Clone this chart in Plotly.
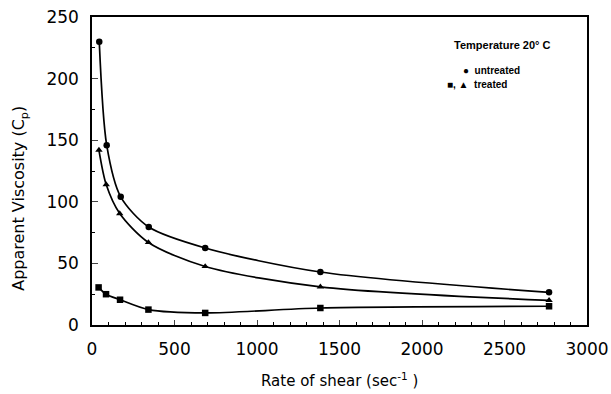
import plotly.graph_objects as go

shear_untreated = [44, 89, 174, 344, 686, 1384, 2770]
visc_untreated = [230, 146, 104, 79.5, 62.5, 43, 26.5]

shear_treated_tri = [42, 86, 168, 342, 686, 1384, 2770]
visc_treated_tri = [142, 114, 90.5, 67, 47.5, 31, 20]

shear_treated_sq = [40, 85, 170, 342, 686, 1384, 2770]
visc_treated_sq = [30.5, 25, 20.5, 12.5, 9.8, 13.8, 15.2]

x_ticks = [0, 500, 1000, 1500, 2000, 2500, 3000]
y_ticks = [0, 50, 100, 150, 200, 250]

fig = go.Figure()
common_line = dict(color="black", width=1.7, shape="spline", smoothing=0.8)
fig.add_trace(go.Scatter(x=shear_untreated, y=visc_untreated, mode="lines+markers",
                         line=common_line, marker=dict(symbol="circle", size=6.5, color="black"),
                         name="untreated"))
fig.add_trace(go.Scatter(x=shear_treated_tri, y=visc_treated_tri, mode="lines+markers",
                         line=common_line, marker=dict(symbol="triangle-up", size=6.5, color="black"),
                         name="treated"))
fig.add_trace(go.Scatter(x=shear_treated_sq, y=visc_treated_sq, mode="lines+markers",
                         line=common_line, marker=dict(symbol="square", size=6.5, color="black"),
                         name="treated"))

tick_font = dict(family="DejaVu Sans", size=17, color="black")
fig.update_layout(
    width=611, height=394,
    margin=dict(l=92, r=24, t=17, b=69),
    paper_bgcolor="white", plot_bgcolor="white",
    showlegend=False,
    font=dict(family="DejaVu Sans", color="black"),
    xaxis=dict(range=[0, 3000], tickvals=x_ticks, ticks="inside", ticklen=5, tickwidth=1,
               showline=True, mirror=True, linecolor="black", linewidth=1.5, automargin=False,
               showgrid=False, zeroline=False, tickfont=tick_font, ticklabelstandoff=8,
               minor=dict(dtick=100, ticks="inside", ticklen=3, tickcolor="black")),
    yaxis=dict(range=[0, 250], tickvals=y_ticks, ticks="inside", ticklen=6, tickwidth=1,
               showline=True, mirror=True, linecolor="black", linewidth=1.5, automargin=False,
               showgrid=False, zeroline=False, tickfont=tick_font, ticklabelstandoff=8,
               minor=dict(dtick=25, ticks="inside", ticklen=3, tickcolor="black")),
)

# axis titles
fig.add_annotation(x=-0.1455, y=0.413, xref="paper", yref="paper",
                   text="Apparent Viscosity (C<sub>p</sub>)", textangle=-90, showarrow=False,
                   font=dict(family="DejaVu Sans", size=16), xanchor="center", yanchor="middle")
fig.add_annotation(x=0.499, y=-0.216, xref="paper", yref="paper",
                   text="Rate of shear (sec<sup>-1</sup> )", showarrow=False,
                   font=dict(family="DejaVu Sans", size=15), xanchor="center", yanchor="bottom")

# legend-like notes
fig.add_annotation(x=0.727, y=0.91, xref="paper", yref="paper", text="<b>Temperature 20° C</b>",
                   showarrow=False, font=dict(family="Liberation Sans", size=11, color="black"),
                   xanchor="left", yanchor="middle")
note_font = dict(family="Liberation Sans", size=10, color="black")
fig.add_annotation(x=0.745, y=0.825, xref="paper", yref="paper", text="<b>●  untreated</b>",
                   showarrow=False, font=note_font, xanchor="left", yanchor="middle")
fig.add_annotation(x=0.713, y=0.78, xref="paper", yref="paper", text="<b>■, ▲  treated</b>",
                   showarrow=False, font=note_font, xanchor="left", yanchor="middle")

fig.write_html("out.html")
